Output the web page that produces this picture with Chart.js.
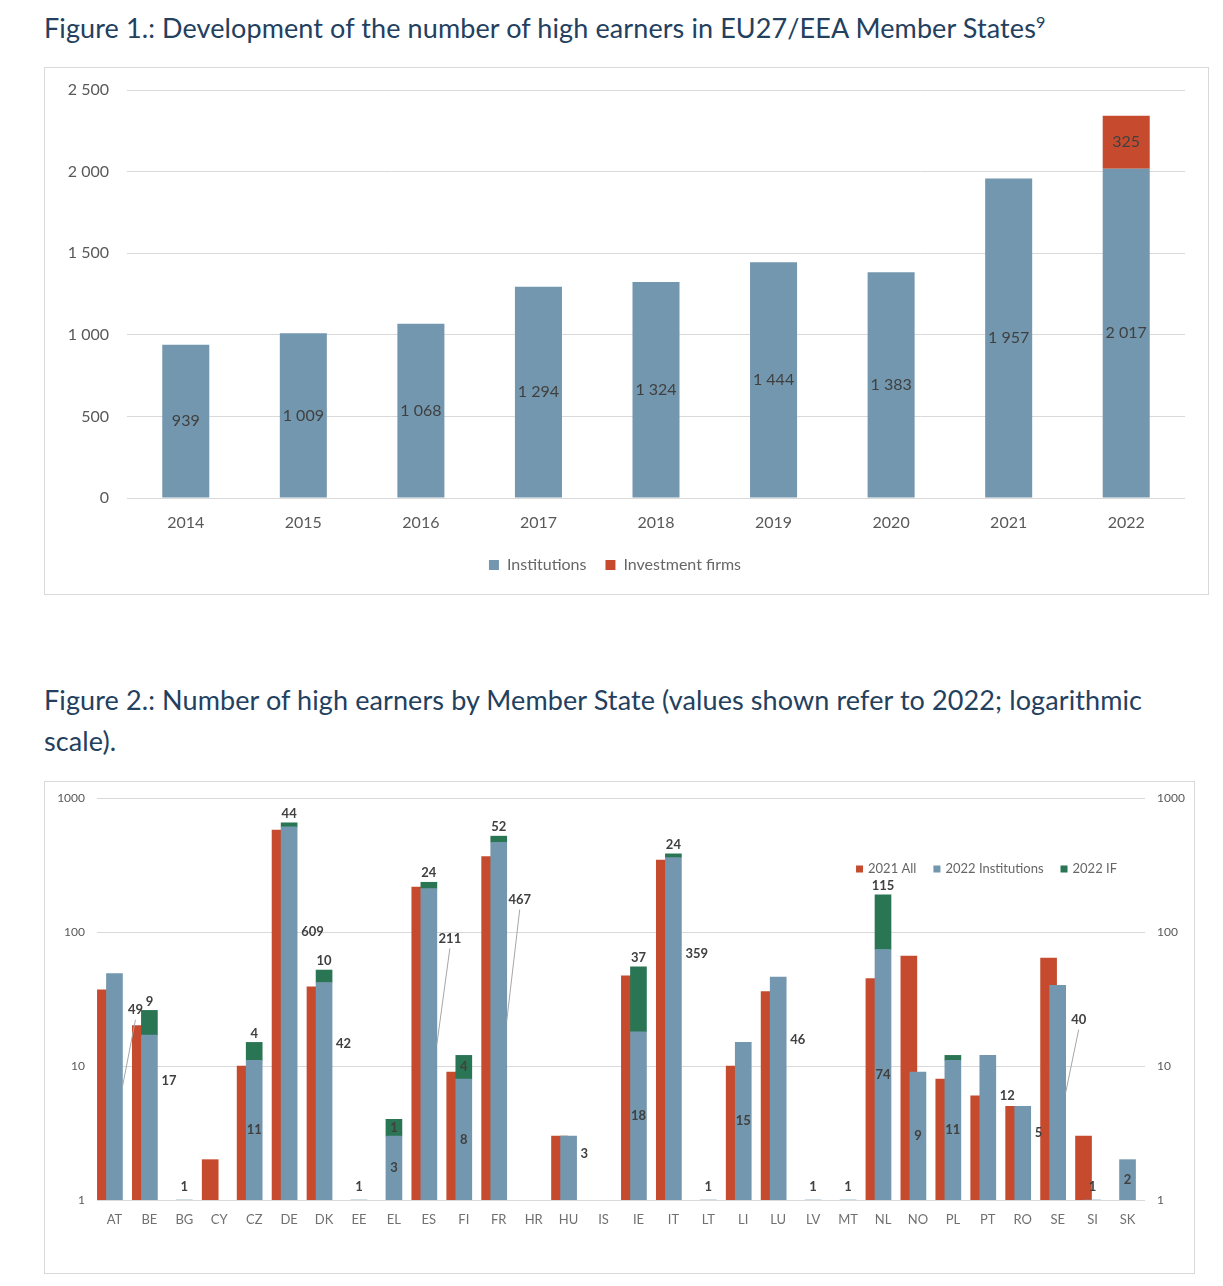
<!DOCTYPE html>
<html>
<head>
<meta charset="utf-8">
<script src="https://cdn.jsdelivr.net/npm/chart.js@4.4.1/dist/chart.umd.min.js"></script>
<style>
  body { margin: 0; background: #fff; font-family: Lato, "Open Sans", sans-serif; }
  .title { position: absolute; left: 44px; color: #23405e; font-size: 27px; letter-spacing: 0.1px; white-space: nowrap; }
  .title sup { font-size: 60%; }
  .box { position: absolute; border: 1px solid #d9d9d9; box-sizing: border-box; }
  .box div { position: absolute; left: 0; top: 0; right: 0; bottom: 0; }
</style>
</head>
<body>
<div class="title" style="top:11px">Figure 1.: Development of the number of high earners in EU27/EEA Member States<sup>9</sup></div>
<div class="box" style="left:44px;top:67px;width:1165px;height:528px"><div><canvas id="fig1"></canvas></div></div>

<div class="title" style="top:679px;line-height:41px">Figure 2.: Number of high earners by Member State (values shown refer to 2022; logarithmic<br>scale).</div>
<div class="box" style="left:44px;top:781px;width:1151px;height:493px"><div><canvas id="fig2"></canvas></div></div>

<script>
// Figure 1
var years = ['2014', '2015', '2016', '2017', '2018', '2019', '2020', '2021', '2022'];
var institutions = [939, 1009, 1068, 1294, 1324, 1444, 1383, 1957, 2017];
var investmentFirms = [null, null, null, null, null, null, null, null, 325];
var fig1Ticks = [0, 500, 1000, 1500, 2000, 2500];

// Figure 2 (log scale)
var countries = ['AT', 'BE', 'BG', 'CY', 'CZ', 'DE', 'DK', 'EE', 'EL', 'ES', 'FI', 'FR', 'HR', 'HU', 'IS',
                 'IE', 'IT', 'LT', 'LI', 'LU', 'LV', 'MT', 'NL', 'NO', 'PL', 'PT', 'RO', 'SE', 'SI', 'SK'];
var all2021 = [37, 20, null, 2, 10, 577, 39, null, null, 216, 9, 365, null, 3, null,
               47, 344, null, 10, 36, null, null, 45, 66, 8, 6, 5, 64, 3, null];
var inst2022 = [49, 17, 1, null, 11, 609, 42, 1, 3, 211, 8, 467, null, 3, null,
                18, 359, 1, 15, 46, 1, 1, 74, 9, 11, 12, 5, 40, 1, 2];
var if2022 = [null, 9, null, null, 4, 44, 10, null, 1, 24, 4, 52, null, null, null,
              37, 24, null, null, null, null, null, 115, null, 1, null, null, null, null, null];
var fig2Ticks = [1, 10, 100, 1000];

// where the figure 2 value labels go: r right of bar, c centre, l leader line, b on baseline, t on top, - none
var instLabelAt = 'l r b - c r r b c l c l - r - c r b c r b b c c c r r l b c'.split(' ');
var ifLabelAt   = '- t - - t t t - c t c t - - - t t - - - - - t - - - - - - -'.split(' ');

var FONT = 'Lato, "Open Sans", sans-serif';
var BLUE = '#7397ae';
var RED = '#c64b2e';
var GREEN = '#2a7553';
var GRID = '#d9d9d9';

Chart.defaults.font.family = FONT;

function spaced(v) {
  return String(v).replace(/\B(?=(\d{3})+(?!\d))/g, ' ');
}

var fig1Labels = {
  id: 'fig1Labels',
  afterDatasetsDraw: function(chart) {
    var ctx = chart.ctx;
    ctx.save();
    ctx.font = '16px ' + FONT;
    ctx.fillStyle = '#404040';
    ctx.textAlign = 'center';
    ctx.textBaseline = 'middle';
    chart.data.datasets.forEach(function(ds, i) {
      chart.getDatasetMeta(i).data.forEach(function(bar, j) {
        if (ds.data[j] == null) return;
        ctx.fillText(spaced(ds.data[j]), bar.x, (bar.y + bar.base) / 2);
      });
    });
    ctx.restore();
  }
};

new Chart(document.getElementById('fig1'), {
  type: 'bar',
  data: {
    labels: years,
    datasets: [
      { label: 'Institutions', data: institutions, backgroundColor: BLUE },
      { label: 'Investment firms', data: investmentFirms, backgroundColor: RED }
    ]
  },
  options: {
    animation: false,
    responsive: true,
    maintainAspectRatio: false,
    layout: { padding: { top: 22, right: 23, bottom: 11 } },
    datasets: { bar: { categoryPercentage: 1, barPercentage: 0.4 } },
    plugins: {
      legend: {
        position: 'bottom',
        labels: { boxWidth: 10, boxHeight: 10, color: '#666', font: { size: 16 }, padding: 19 }
      },
      tooltip: { enabled: false }
    },
    scales: {
      x: {
        stacked: true,
        grid: { display: false, drawTicks: false },
        border: { display: false },
        ticks: { color: '#595959', font: { size: 16 }, padding: 15 },
        afterFit: function(s) { s.height = 40; }
      },
      y: {
        stacked: true,
        min: 0,
        max: 2500,
        afterBuildTicks: function(s) { s.ticks = fig1Ticks.map(function(v) { return { value: v }; }); },
        ticks: { color: '#595959', font: { size: 16 }, padding: 4, callback: function(v) { return spaced(v); } },
        grid: { color: GRID, tickColor: 'rgba(0,0,0,0)', tickLength: 14 },
        border: { display: false },
        afterFit: function(s) { s.width = 82; }
      }
    }
  },
  plugins: [fig1Labels]
});

var fig2Labels = {
  id: 'fig2Labels',
  afterDatasetsDraw: function(chart) {
    var ctx = chart.ctx;
    var instBars = chart.getDatasetMeta(1).data;
    var ifBars = chart.getDatasetMeta(2).data;
    ctx.save();
    ctx.font = 'bold 13px ' + FONT;
    ctx.fillStyle = '#404040';
    ctx.strokeStyle = '#a6a6a6';
    ctx.lineWidth = 1;
    ctx.textBaseline = 'middle';
    countries.forEach(function(c, i) {
      var bar = instBars[i];
      var mode = instLabelAt[i];
      if (inst2022[i] != null && mode != '-') {
        var right = bar.x + bar.width / 2;
        var h = bar.base - bar.y;
        var txt = String(inst2022[i]);
        if (mode == 'c') {
          ctx.textAlign = 'center';
          ctx.fillText(txt, bar.x, bar.base - h / 2);
        } else if (mode == 'r') {
          ctx.textAlign = 'left';
          ctx.fillText(txt, right + 4, bar.base - 0.72 * h);
        } else if (mode == 'l') {
          var lx = right + 13, ly = bar.base - 0.84 * h;
          ctx.beginPath();
          ctx.moveTo(right, bar.base - h / 2);
          ctx.lineTo(lx, ly + 10);
          ctx.stroke();
          ctx.textAlign = 'center';
          ctx.fillText(txt, lx, ly);
        } else if (mode == 'b') {
          ctx.textAlign = 'center';
          ctx.fillText(txt, bar.x, bar.base - 13);
        }
      }
      var g = ifBars[i];
      if (if2022[i] != null && ifLabelAt[i] != '-') {
        ctx.textAlign = 'center';
        if (ifLabelAt[i] == 't') ctx.fillText(String(if2022[i]), g.x, g.y - 9);
        else ctx.fillText(String(if2022[i]), g.x, (g.y + g.base) / 2);
      }
    });
    ctx.restore();
  }
};

var fig2Legend = {
  id: 'fig2Legend',
  afterDraw: function(chart) {
    var ctx = chart.ctx, area = chart.chartArea;
    var items = chart.data.datasets;
    ctx.save();
    ctx.font = '13px ' + FONT;
    ctx.textBaseline = 'middle';
    ctx.textAlign = 'left';
    var widths = items.map(function(ds) { return 12 + ctx.measureText(ds.label).width; });
    var gap = 17;
    var total = widths.reduce(function(a, b) { return a + b; }, 0) + gap * (items.length - 1);
    var x = area.right - 28 - total, y = area.top + 71;
    items.forEach(function(ds, i) {
      ctx.fillStyle = ds.backgroundColor;
      ctx.fillRect(x, y - 3.5, 7, 7);
      ctx.fillStyle = '#666';
      ctx.fillText(ds.label, x + 12, y);
      x += widths[i] + gap;
    });
    ctx.restore();
  }
};

function logAxis(position, width, showGrid) {
  return {
    type: 'logarithmic',
    position: position,
    min: 1,
    max: 1000,
    stacked: true,
    afterBuildTicks: function(s) { s.ticks = fig2Ticks.map(function(v) { return { value: v }; }); },
    ticks: { color: '#595959', font: { size: 12 }, padding: 4, callback: function(v) { return String(v); } },
    grid: { display: showGrid, color: GRID, tickColor: 'rgba(0,0,0,0)', tickLength: 8 },
    border: { display: false },
    afterFit: function(s) { s.width = width; }
  };
}

new Chart(document.getElementById('fig2'), {
  type: 'bar',
  data: {
    datasets: [
      { label: '2021 All', backgroundColor: RED, stack: 'a', order: 2,
        data: all2021.map(function(v, i) { return { x: i - 0.26, y: v }; }) },
      { label: '2022 Institutions', backgroundColor: BLUE, stack: 'b', order: 1,
        data: inst2022.map(function(v, i) { return { x: i, y: v }; }) },
      { label: '2022 IF', backgroundColor: GREEN, stack: 'b', order: 1,
        data: if2022.map(function(v, i) { return { x: i, y: v }; }) }
    ]
  },
  options: {
    animation: false,
    responsive: true,
    maintainAspectRatio: false,
    layout: { padding: { top: 16 } },
    datasets: { bar: { grouped: false, barThickness: 16 } },
    plugins: { legend: { display: false }, tooltip: { enabled: false } },
    scales: {
      x: {
        type: 'linear',
        min: -0.5,
        max: 29.5,
        offset: false,
        afterBuildTicks: function(s) { s.ticks = countries.map(function(c, i) { return { value: i }; }); },
        ticks: { autoSkip: false, maxRotation: 0, padding: 12, color: '#707070', font: { size: 13 },
                 callback: function(v) { return countries[v]; } },
        grid: { display: false, drawTicks: false },
        border: { display: false },
        afterFit: function(s) { s.height = 73; }
      },
      y: logAxis('left', 52, true),
      y2: logAxis('right', 49, false)
    }
  },
  plugins: [fig2Labels, fig2Legend]
});
</script>
</body>
</html>
